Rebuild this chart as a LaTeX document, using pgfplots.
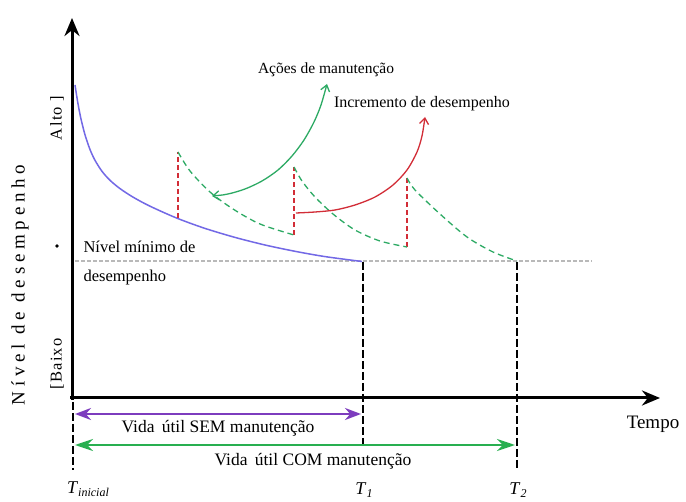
\documentclass[border=0pt]{standalone}
\usepackage{pgfplots}
\pgfplotsset{compat=1.18}
\usepackage{fontspec}
\setmainfont{Liberation Serif}
\newfontfamily\spaced[LetterSpace=25]{Liberation Serif}
\newfontfamily\lspaced[LetterSpace=8]{Liberation Serif}
\usetikzlibrary{arrows.meta}

\definecolor{curveblue}{RGB}{115,105,230}
\definecolor{mred}{RGB}{210,45,55}
\definecolor{mgreen}{RGB}{45,170,100}
\definecolor{apurple}{RGB}{125,60,190}
\definecolor{agreen}{RGB}{40,175,80}

\begin{document}
\begin{tikzpicture}
\begin{axis}[
    width=686pt, height=502pt, scale only axis,
    xmin=0, xmax=686, ymin=0, ymax=502,
    y dir=reverse,
    hide axis, clip=false,
]
% page frame (sets the picture size)
\addplot[draw=none, fill=white] coordinates {(0,0) (686,0) (686,502) (0,502)} -- cycle;

% minimum performance level
\addplot[gray!55, line width=1.2pt, dash pattern=on 4pt off 2pt] coordinates {(75,261) (592,261)};

% performance without maintenance
\addplot[curveblue, line width=1.5pt, smooth] coordinates {
    (75,85) (78,103.8) (81,119) (85,134.8) (90,149.5) (95,160.3) (102,171.3)
    (110,180.3) (120,188.6) (133,197.1) (150,206.2) (177,218.2) (205,228.4)
    (235,237.4) (265,245) (295,251.3) (325,256.6) (362,261.5)};

% maintenance jumps
\addplot[mred, line width=1.3pt, dash pattern=on 5pt off 3pt] coordinates {(178,218) (178,152)};
\addplot[mred, line width=1.3pt, dash pattern=on 5pt off 3pt] coordinates {(294,235) (294,167)};
\addplot[mred, line width=1.3pt, dash pattern=on 5pt off 3pt] coordinates {(407,247) (407,178)};

% performance with maintenance
\addplot[mgreen, line width=1.3pt, dash pattern=on 6pt off 4pt, smooth] coordinates {
    (178,152) (190,171) (210,192) (233,209) (260,224) (294,235)};
\addplot[mgreen, line width=1.3pt, dash pattern=on 6pt off 4pt, smooth] coordinates {
    (294,167) (302,181) (315,197) (333,214) (355,230) (380,241) (407,247)};
\addplot[mgreen, line width=1.3pt, dash pattern=on 6pt off 4pt, smooth] coordinates {
    (407,178) (415,190) (440,214) (467,237) (493,252) (517,261)};

% annotation arrows
\addplot[mgreen, line width=1.3pt, smooth, {Straight Barb[length=6pt,width=9pt]}-{Straight Barb[length=6pt,width=9pt]}] coordinates {
    (212,196) (228,194) (245,189) (262,181) (278,170) (292,156) (304,140) (314,122) (321,105) (327,84)};
\addplot[mred, line width=1.3pt, smooth, -{Straight Barb[length=6pt,width=9pt]}] coordinates {
    (296,213) (315,212) (335,210) (355,205) (375,197) (393,185) (407,170) (417,152) (422,136) (425,117)};

% time markers
\addplot[black, line width=2.6pt, dash pattern=on 8pt off 3pt] coordinates {(73,402) (73,470)};
\addplot[black, line width=2.6pt, dash pattern=on 8pt off 3pt] coordinates {(363,262) (363,447)};
\addplot[black, line width=2.6pt, dash pattern=on 8pt off 3pt] coordinates {(517,262) (517,469)};

% axes
\addplot[black, line width=3pt, -{Stealth[length=18pt,width=15pt]}] coordinates {(72,400) (72,18)};
\addplot[black, line width=3pt, -{Stealth[length=18pt,width=15pt]}] coordinates {(70,398) (660,398)};

% useful life arrows
\addplot[apurple, line width=2.2pt, {Stealth[length=16pt,width=12pt]}-{Stealth[length=16pt,width=12pt]}] coordinates {(75,414) (361,414)};
\addplot[agreen, line width=2.2pt, {Stealth[length=18pt,width=12pt]}-{Stealth[length=18pt,width=12pt]}] coordinates {(75,445) (515,445)};

% texts
\node[font=\fontsize{15.5}{17}\selectfont] at (axis cs:326,70) {Ações de manutenção};
\node[font=\fontsize{16}{18}\selectfont] at (axis cs:422,104) {Incremento de desempenho};
\node[font=\fontsize{16.5}{18}\selectfont, anchor=west] at (axis cs:80,247) {Nível mínimo de};
\node[font=\fontsize{16.5}{18}\selectfont, anchor=west] at (axis cs:80,278) {desempenho};
\node[font=\fontsize{17.5}{19}\selectfont] at (axis cs:218,428) {Vida\, útil SEM manutenção};
\node[font=\fontsize{17.5}{19}\selectfont] at (axis cs:313,461) {Vida\, útil COM manutenção};
\node[font=\fontsize{19}{21}\selectfont] at (axis cs:653,424) {Tempo};
\node[font=\fontsize{18}{20}\selectfont] at (axis cs:88,489) {\textit{T}\raisebox{-3pt}{\fontsize{12}{14}\selectfont\textit{inicial}}};
\node[font=\fontsize{18}{20}\selectfont] at (axis cs:364,490) {\textit{T}\raisebox{-3pt}{\fontsize{12}{14}\selectfont\textit{1}}};
\node[font=\fontsize{18}{20}\selectfont] at (axis cs:518,490) {\textit{T}\raisebox{-3pt}{\fontsize{12}{14}\selectfont\textit{2}}};
\node[font=\fontsize{19}{21}\selectfont\spaced, rotate=90] at (axis cs:20,285) {Nível de desempenho};
\node[font=\fontsize{16.5}{18}\selectfont\lspaced, rotate=90] at (axis cs:57,364) {[Baixo};
\node[font=\fontsize{16.5}{18}\selectfont\lspaced, rotate=90] at (axis cs:57,118) {Alto ]};
\node[circle, fill=black, inner sep=1.3pt] at (axis cs:57,246) {};
\end{axis}
\end{tikzpicture}
\end{document}
